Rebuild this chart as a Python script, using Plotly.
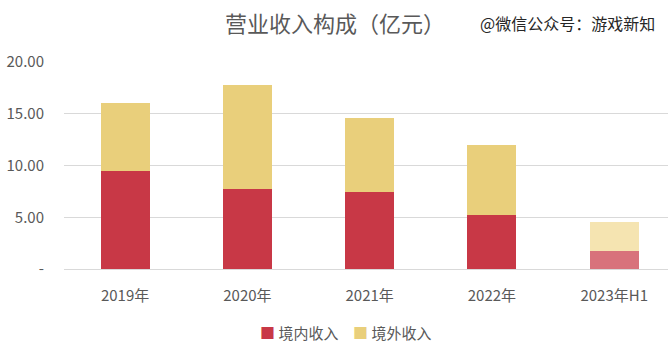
import plotly.graph_objects as go

years = ["2019年", "2020年", "2021年", "2022年", "2023年H1"]
domestic = [9.47, 7.73, 7.44, 5.22, 1.74]
overseas_total = [16.04, 17.78, 14.59, 11.98, 4.54]
overseas = [round(t - d, 2) for t, d in zip(overseas_total, domestic)]

red = "#c83846"
yellow = "#e9cf7b"
red_light = "#d8727b"
yellow_light = "#f5e4b1"

red_colors = [red] * 4 + [red_light]
yellow_colors = [yellow] * 4 + [yellow_light]

font_family = "Noto Sans CJK SC, Microsoft YaHei, sans-serif"
text_color = "#595959"

W, H = 668, 346
L, R, T, B = 64, 0, 62, 77
plot_w = W - L - R
plot_h = H - T - B


def px_x(x):
    return (x - L) / plot_w


def px_y(y):
    return (H - B - y) / plot_h


fig = go.Figure()
fig.add_trace(go.Bar(x=years, y=domestic, name="境内收入",
                     marker=dict(color=red_colors, line=dict(width=0)),
                     width=0.4, showlegend=False))
fig.add_trace(go.Bar(x=years, y=overseas, name="境外收入",
                     marker=dict(color=yellow_colors, line=dict(width=0)),
                     width=0.4, showlegend=False))

header = [
    dict(text="营业收入构成（亿元）", x=px_x(335), y=px_y(22),
         font=dict(size=22, color=text_color)),
    dict(text="@微信公众号：游戏新知", x=px_x(567), y=px_y(23),
         font=dict(size=16, color="#262626")),
]
legend_items = [
    dict(text=f"<span style='color:{red}'>■</span> 境内收入", x=px_x(299), y=px_y(332),
         font=dict(size=15, color=text_color)),
    dict(text=f"<span style='color:{yellow}'>■</span> 境外收入", x=px_x(392), y=px_y(332),
         font=dict(size=15, color=text_color)),
]
annotations = []
for a in header + legend_items:
    a.update(xref="paper", yref="paper", xanchor="center", yanchor="middle", showarrow=False)
    annotations.append(a)

fig.update_layout(
    barmode="stack",
    width=W, height=H,
    margin=dict(l=L, r=R, t=T, b=B),
    plot_bgcolor="white", paper_bgcolor="white",
    font=dict(family=font_family, size=15, color=text_color),
    showlegend=False,
    xaxis=dict(range=[-0.5, 4.44], showgrid=False, showline=False, ticks="",
               ticklabelstandoff=16,
               tickfont=dict(size=15, color=text_color)),
    yaxis=dict(range=[0, 20], tickvals=[0, 5, 10, 15, 20],
               ticktext=["-", "5.00", "10.00", "15.00", "20.00"],
               showgrid=True, gridcolor="#d9d9d9", gridwidth=1,
               zeroline=True, zerolinecolor="#d9d9d9", zerolinewidth=1,
               showline=False, ticks="", ticklabelstandoff=19,
               tickfont=dict(size=15, color=text_color)),
    annotations=annotations,
)

fig.write_html("out.html")
